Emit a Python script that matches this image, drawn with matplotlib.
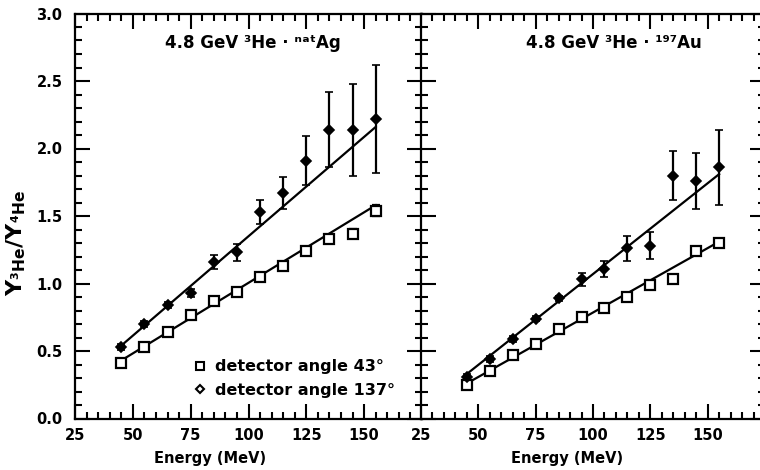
import matplotlib
matplotlib.use("Agg")
import matplotlib.pyplot as plt
from matplotlib.ticker import MultipleLocator
from matplotlib.lines import Line2D

# ---------------- data ----------------
energy = [45, 55, 65, 75, 85, 95, 105, 115, 125, 135, 145, 155]

ag_43 = [0.41, 0.53, 0.64, 0.77, 0.87, 0.94, 1.05, 1.13, 1.24, 1.33, 1.37, 1.54]
ag_43_err = [0.015, 0.015, 0.015, 0.015, 0.015, 0.015, 0.015, 0.02, 0.02, 0.025, 0.03, 0.04]
ag_137 = [0.53, 0.70, 0.84, 0.93, 1.16, 1.23, 1.53, 1.67, 1.91, 2.14, 2.14, 2.22]
ag_137_err = [0.02, 0.02, 0.02, 0.03, 0.05, 0.06, 0.09, 0.12, 0.18, 0.28, 0.34, 0.40]

au_43 = [0.25, 0.35, 0.47, 0.55, 0.66, 0.75, 0.82, 0.90, 0.99, 1.03, 1.24, 1.30]
au_43_err = [0.015, 0.015, 0.015, 0.015, 0.015, 0.015, 0.015, 0.015, 0.02, 0.02, 0.025, 0.03]
au_137 = [0.31, 0.44, 0.59, 0.74, 0.89, 1.03, 1.11, 1.26, 1.28, 1.80, 1.76, 1.86]
au_137_err = [0.02, 0.02, 0.02, 0.02, 0.02, 0.05, 0.06, 0.09, 0.10, 0.185, 0.21, 0.28]

fit_x = [45, 155]
ag_fit_43 = [0.43, 1.58]
ag_fit_137 = [0.54, 2.16]
au_fit_43 = [0.26, 1.31]
au_fit_137 = [0.33, 1.81]

x_ticks = [25, 50, 75, 100, 125, 150, 175]
x_tick_labels = ["25", "50", "75", "100", "125", "150", ""]
y_ticks = [0.0, 0.5, 1.0, 1.5, 2.0, 2.5, 3.0]
y_tick_labels = ["0.0", "0.5", "1.0", "1.5", "2.0", "2.5", "3.0"]

titles = ["4.8 GeV \u00b3He \u00b7 \u207f\u1d43\u1d57Ag", "4.8 GeV \u00b3He \u00b7 \u00b9\u2079\u2077Au"]
legend_labels = ["detector angle 43\u00b0", "detector angle 137\u00b0"]

# ---------------- figure ----------------
W, H = 760, 470
fig = plt.figure(figsize=(W / 100, H / 100), dpi=100)
FS = 10.5
plt.rcParams["font.family"] = ["DejaVu Sans"]
plt.rcParams["font.weight"] = "bold"
plt.rcParams["mathtext.fontset"] = "dejavusans"


def px_axes(x0, x1, ytop, ybot):
    return fig.add_axes([x0 / W, (H - ybot) / H, (x1 - x0) / W, (ybot - ytop) / H])


ax1 = px_axes(75, 422, 13.5, 418.5)
ax2 = px_axes(421, 765, 13.5, 418.5)


def style(ax, xmax, ylabels):
    ax.set_xlim(25, xmax)
    ax.set_ylim(0, 3.0)
    ax.set_xticks(x_ticks)
    ax.set_xticklabels(x_tick_labels, fontsize=FS, fontweight="bold")
    ax.set_yticks(y_ticks)
    if ylabels:
        ax.set_yticklabels(y_tick_labels, fontsize=FS, fontweight="bold")
    else:
        ax.set_yticklabels([])
    ax.xaxis.set_minor_locator(MultipleLocator(5))
    ax.yaxis.set_minor_locator(MultipleLocator(0.1))
    ax.tick_params(which="both", direction="in", top=True, right=True, width=1.5, color="black")
    ax.tick_params(which="major", length=11)
    ax.tick_params(which="minor", length=5)
    ax.tick_params(axis="x", pad=7)
    ax.tick_params(axis="y", pad=9)
    for s in ax.spines.values():
        s.set_linewidth(1.6)


style(ax1, 175, True)
style(ax2, 172.9, False)


def draw(ax, y43, e43, y137, e137, f43, f137):
    ax.plot(fit_x, f43, color="black", lw=1.6, zorder=2)
    ax.plot(fit_x, f137, color="black", lw=1.6, zorder=2)
    ax.errorbar(energy, y43, yerr=e43, fmt="s", ms=6.5, mfc="white", mec="black", mew=1.6,
                ecolor="black", elinewidth=1.5, capsize=3, capthick=1.5, zorder=3)
    ax.errorbar(energy, y137, yerr=e137, fmt="D", ms=5, mfc="black", mec="black", mew=1.2,
                ecolor="black", elinewidth=1.6, capsize=3, capthick=1.5, zorder=3)


draw(ax1, ag_43, ag_43_err, ag_137, ag_137_err, ag_fit_43, ag_fit_137)
draw(ax2, au_43, au_43_err, au_137, au_137_err, au_fit_43, au_fit_137)

TFS = 12
fig.text((158 + 347) / 2 / W, 1 - 43 / H, titles[0], ha="center", va="center",
         fontsize=TFS, fontweight="bold")
fig.text((520 + 707) / 2 / W, 1 - 43 / H, titles[1], ha="center", va="center",
         fontsize=TFS, fontweight="bold")

handles = [Line2D([], [], ls="none", marker="s", ms=6, mfc="white", mec="black", mew=1.5),
           Line2D([], [], ls="none", marker="D", ms=4.5, mfc="white", mec="black", mew=1.5)]
ax1.legend(handles, legend_labels, loc="lower left", bbox_to_anchor=((185 - 75) / 347, (418.5 - 406) / 405),
           frameon=False, borderpad=0, handlelength=0.9, handletextpad=0.45, labelspacing=0.55,
           prop={"size": 11.5, "weight": "bold"})

fig.text(210 / W, 1 - 458 / H, "Energy (MeV)", ha="center", va="center", fontsize=FS, fontweight="bold")
fig.text(567 / W, 1 - 458 / H, "Energy (MeV)", ha="center", va="center", fontsize=FS, fontweight="bold")
fig.text(16 / W, 1 - 243 / H, r"$\mathbf{Y_{^3He}/Y_{^4He}}$", rotation=90, ha="center", va="center",
         fontsize=16)

fig.savefig("out.png", dpi=100)
